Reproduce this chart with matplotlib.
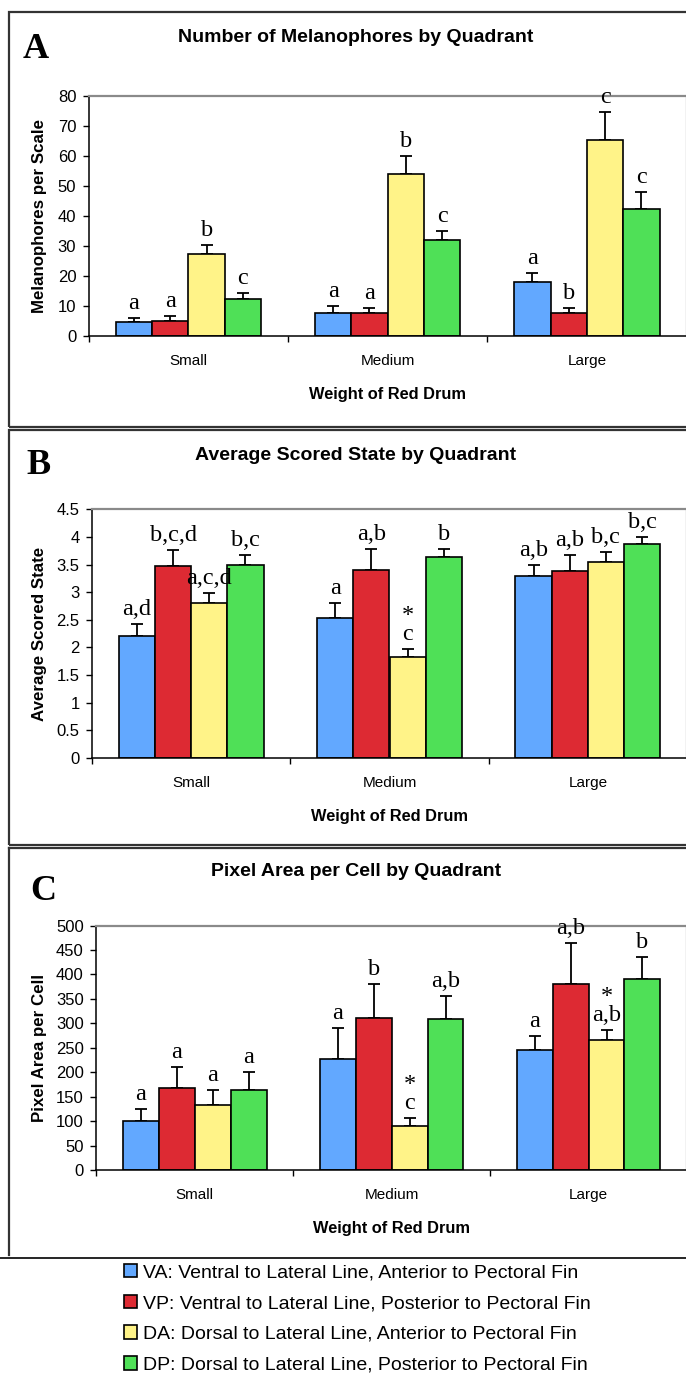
import numpy as np
import matplotlib
matplotlib.use("Agg")
import matplotlib.pyplot as plt
from matplotlib.patches import Rectangle
from matplotlib.lines import Line2D

plt.rcParams["font.family"] = ["Liberation Sans", "DejaVu Sans"]

# ---- data ----
categories = ["Small", "Medium", "Large"]
series = ["VA: Ventral to Lateral Line, Anterior to Pectoral Fin",
          "VP: Ventral to Lateral Line, Posterior to Pectoral Fin",
          "DA: Dorsal to Lateral Line, Anterior to Pectoral Fin",
          "DP: Dorsal to Lateral Line, Posterior to Pectoral Fin"]
colors = ["#62A8FF", "#DD2A33", "#FFF388", "#4FE057"]

# A: melanophores per scale (mean, +SE, letters)
mel_va = [4.5, 7.7, 18.0]; mel_va_err = [1.6, 2.2, 3.1]; mel_va_lab = ["a", "a", "a"]
mel_vp = [5.1, 7.7, 7.7]; mel_vp_err = [1.7, 1.6, 1.5]; mel_vp_lab = ["a", "a", "b"]
mel_da = [27.2, 54.0, 65.4]; mel_da_err = [3.0, 5.8, 9.3]; mel_da_lab = ["b", "b", "c"]
mel_dp = [12.3, 32.0, 42.3]; mel_dp_err = [2.0, 3.1, 5.6]; mel_dp_lab = ["c", "c", "c"]

# B: average scored state
sco_va = [2.20, 2.54, 3.29]; sco_va_err = [0.23, 0.26, 0.20]; sco_va_lab = ["a,d", "a", "a,b"]
sco_vp = [3.47, 3.41, 3.39]; sco_vp_err = [0.29, 0.38, 0.29]; sco_vp_lab = ["b,c,d", "a,b", "a,b"]
sco_da = [2.80, 1.83, 3.54]; sco_da_err = [0.19, 0.15, 0.19]; sco_da_lab = ["a,c,d", "c", "b,c"]
sco_dp = [3.49, 3.63, 3.87]; sco_dp_err = [0.19, 0.16, 0.13]; sco_dp_lab = ["b,c", "b", "b,c"]
sco_da_star = [False, True, False]

# C: pixel area per cell
pix_va = [101, 228, 245]; pix_va_err = [24, 63, 30]; pix_va_lab = ["a", "a", "a"]
pix_vp = [167, 311, 380]; pix_vp_err = [43, 69, 84]; pix_vp_lab = ["a", "b", "a,b"]
pix_da = [134, 89, 265]; pix_da_err = [30, 18, 22]; pix_da_lab = ["a", "c", "a,b"]
pix_dp = [163, 308, 391]; pix_dp_err = [37, 48, 45]; pix_dp_lab = ["a", "a,b", "b"]
pix_da_star = [False, True, True]

W, H = 686, 1377
fig = plt.figure(figsize=(W / 100, H / 100), dpi=100)
fig.patch.set_facecolor("white")

def fx(x): return x / W
def fy(y): return 1 - y / H

def frame_line(x0, y0, x1, y1, lw=1.6, c="#333333"):
    fig.add_artist(Line2D([fx(x0), fx(x1)], [fy(y0), fy(y1)], transform=fig.transFigure, lw=lw, color=c))

def panel(rect, letter, letter_xy, title, title_y, ylabel, means, errs, labs, stars, ymax, ystep, fmt):
    left, top, right, bottom = rect
    ax = fig.add_axes([fx(left), fy(bottom), (right - left) / W, (bottom - top) / H])
    w = 0.1825
    x = np.arange(len(categories))
    bars = []
    for i, (m, e, lab) in enumerate(zip(means, errs, labs)):
        xi = x + (i - 1.5) * w
        b = ax.bar(xi, m, width=w, color=colors[i], edgecolor="black", linewidth=1.2, zorder=2)
        bars.append(b)
        ax.errorbar(xi, m, yerr=[np.zeros(len(m)), e], fmt="none", ecolor="black",
                    elinewidth=1.3, capsize=4.3, capthick=1.3, zorder=1)
        for j in range(len(m)):
            ax.annotate(lab[j], (xi[j], m[j] + e[j]), xytext=(0, 6.5), textcoords="offset points",
                        ha="center", va="baseline", fontsize=17.5, family="Liberation Serif")
            if stars is not None and i == 2 and stars[j]:
                ax.annotate("*", (xi[j], m[j] + e[j]), xytext=(0, 20), textcoords="offset points",
                            ha="center", va="baseline", fontsize=17.5, family="Liberation Serif")
    ax.set_xlim(-0.5, len(categories) - 0.5)
    ax.set_ylim(0, ymax)
    ticks = np.arange(0, ymax + ystep / 2, ystep)
    ax.set_yticks(ticks)
    ax.set_yticklabels([fmt(t) for t in ticks])
    ax.set_xticks(x)
    ax.set_xticklabels(categories)
    ax.set_xticks(np.arange(-0.5, len(categories)), minor=True)
    ax.tick_params(axis="x", which="major", length=0, pad=13, labelsize=11)
    ax.tick_params(axis="x", which="minor", length=4, width=1, direction="out")
    ax.tick_params(axis="y", length=4, width=1, direction="out", pad=5, labelsize=12)
    for s in ["left", "bottom"]:
        ax.spines[s].set_color("black"); ax.spines[s].set_linewidth(1.1)
    for s in ["top", "right"]:
        ax.spines[s].set_color("#8a8a8a"); ax.spines[s].set_linewidth(1.6)
    ax.set_xlabel("Weight of Red Drum", fontsize=11.8, fontweight="bold", labelpad=14)
    fig.text(fx(40), fy((top + bottom) / 2), ylabel, rotation=90, ha="center", va="center",
             fontsize=12.2, fontweight="bold")
    fig.text(fx(356), fy(title_y), title, ha="center", va="center", fontsize=14, fontweight="bold")
    fig.text(fx(letter_xy[0]), fy(letter_xy[1]), letter, ha="left", va="center", fontsize=26,
             fontweight="bold", family="Liberation Serif")
    return ax, bars

# outer frames
fig.add_artist(Rectangle((fx(9), fy(427)), (730 - 9) / W, (427 - 12) / H, transform=fig.transFigure,
                         fill=False, lw=1.6, edgecolor="#333333"))
fig.add_artist(Rectangle((fx(9), fy(845)), (730 - 9) / W, (845 - 429.5) / H, transform=fig.transFigure,
                         fill=False, lw=1.6, edgecolor="#333333"))
frame_line(9, 847.5, 730, 847.5)
frame_line(9, 847.5, 9, 1255)
frame_line(0, 1258, 686, 1258, lw=1.2, c="black")

ax_a, bars_a = panel((88.8, 95.7, 686.5, 336), "A", (23, 50), "Number of Melanophores by Quadrant", 37,
                     "Melanophores per Scale",
                     [mel_va, mel_vp, mel_da, mel_dp], [mel_va_err, mel_vp_err, mel_da_err, mel_dp_err],
                     [mel_va_lab, mel_vp_lab, mel_da_lab, mel_dp_lab], None, 80, 10, lambda t: f"{t:g}")
ax_b, _ = panel((92, 509.3, 687, 758), "B", (26, 465), "Average Scored State by Quadrant", 455,
                "Average Scored State",
                [sco_va, sco_vp, sco_da, sco_dp], [sco_va_err, sco_vp_err, sco_da_err, sco_dp_err],
                [sco_va_lab, sco_vp_lab, sco_da_lab, sco_dp_lab], sco_da_star, 4.5, 0.5, lambda t: f"{t:g}")
ax_c, _ = panel((96.2, 925.6, 687, 1170), "C", (30, 891), "Pixel Area per Cell by Quadrant", 872,
                "Pixel Area per Cell",
                [pix_va, pix_vp, pix_da, pix_dp], [pix_va_err, pix_vp_err, pix_da_err, pix_dp_err],
                [pix_va_lab, pix_vp_lab, pix_da_lab, pix_dp_lab], pix_da_star, 500, 50, lambda t: f"{t:g}")

fig.legend([b.patches[0] for b in bars_a], series, loc="upper left", bbox_to_anchor=(fx(124), fy(1264)),
           frameon=False, borderpad=0, borderaxespad=0, handlelength=0.68, handleheight=0.68,
           handletextpad=0.3, labelspacing=0.68, fontsize=14)

fig.savefig("out.png", dpi=100, facecolor="white")
